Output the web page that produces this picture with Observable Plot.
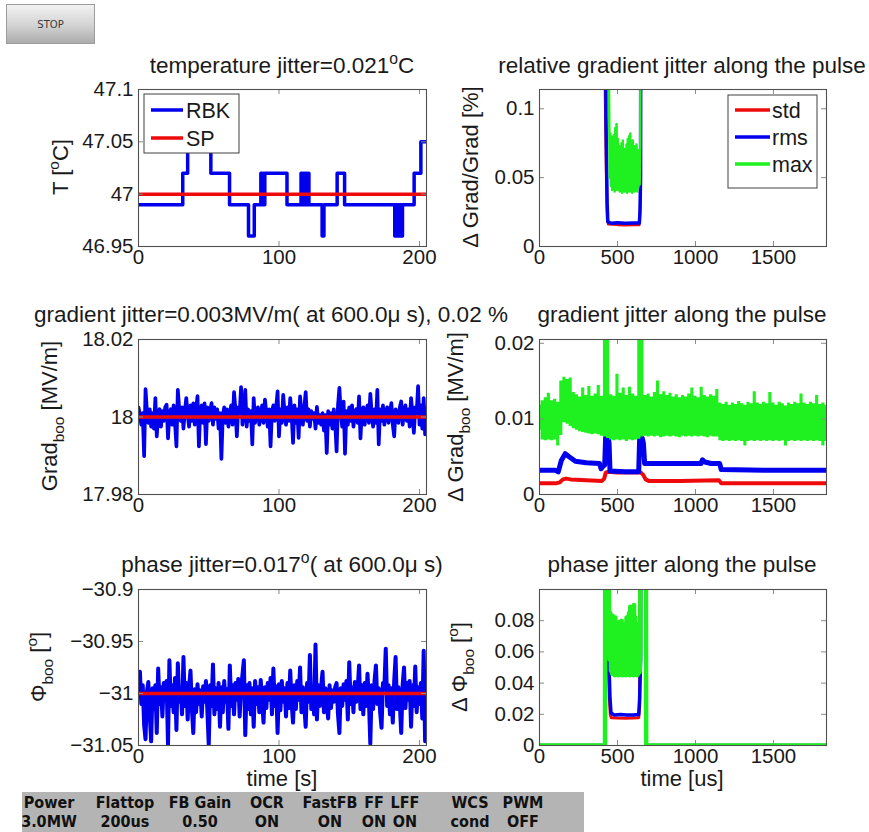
<!DOCTYPE html>
<html><head><meta charset="utf-8">
<script src="https://cdn.jsdelivr.net/npm/d3@7"></script>
<script src="https://cdn.jsdelivr.net/npm/@observablehq/plot@0.6"></script>
<style>
body{margin:0;background:#fff;}
#root{position:relative;width:869px;height:832px;overflow:hidden;background:#fff;}
.panel{position:absolute;}
#overlay{position:absolute;left:0;top:0;pointer-events:none;}
#stop{position:absolute;left:6px;top:4px;width:89px;height:40px;box-sizing:border-box;border:1px solid #9c9c9c;
 background:linear-gradient(#f2f2f2,#d2d2d2 55%,#acacac);font:10px "DejaVu Sans",sans-serif;color:#3a3a3a;
 display:flex;align-items:center;justify-content:center;}
</style></head>
<body><div id="root"><div id="stop">STOP</div></div>
<script>
// ---------------- DATA ----------------
// temperature readback (step changes), seconds / °C
const tempTime  = [0, 31.5, 35, 51.5, 64.8, 78.3, 82.4, 87.1, 87.8, 88.5, 89.2, 89.9, 105.7, 115.7, 116.5, 117.3, 118.1, 118.9, 119.7, 120.5, 121.3, 130.7, 132.0, 141.4, 146.7, 182.4, 183.2, 184.0, 184.8, 185.6, 186.4, 187.2, 187.9, 196.2, 201.0, 205.0];
const tempValue = [46.99, 47.02, 47.05, 47.02, 46.99, 46.96, 46.99, 47.02, 46.99, 47.02, 46.99, 47.02, 46.99, 47.02, 46.99, 47.02, 46.99, 47.02, 46.99, 47.02, 46.99, 46.96, 46.99, 47.02, 46.99, 46.96, 46.99, 46.96, 46.99, 46.96, 46.99, 46.96, 46.99, 47.02, 47.05, 47.05];
const tempSetpoint = 47;

// gradient at 600 us, one sample per second (MV/m)
const gradValue = [
 18.0025, 18.0005, 17.998, 18.001, 17.9899, 18.0072, 18.0015, 17.9985, 18.002, 17.9975,
 18.001, 17.997, 18.0049, 17.995, 18.0005, 18.002, 17.9975, 18.0015, 17.999, 18.0025,
 18.0032, 17.9945, 18.001, 18.002, 17.998, 18.003, 17.9985, 17.9924, 18.007, 18.002,
 17.999, 18.0025, 17.997, 18.0015, 18.0049, 18.0005, 17.9975, 18.003, 17.999, 18.0035,
 17.998, 18.002, 18.0054, 17.9924, 18.002, 18.003, 17.9985, 18.0035, 17.993, 18.0025,
 17.999, 18.0015, 18.0036, 17.998, 18.0025, 17.9995, 18.002, 17.997, 18.001, 17.9892,
 18.0005, 18.0025, 17.9985, 18.002, 17.9975, 18.001, 18.003, 17.998, 18.0064, 18.002,
 17.995, 18.0025, 18.001, 18.0077, 17.998, 18.0015, 18.007, 17.9975, 18.002, 17.999,
 18.0015, 17.9929, 18.0049, 17.9985, 18.001, 18.0025, 17.998, 18.0005, 18.003, 17.9985,
 18.0045, 18.001, 17.9975, 18.002, 17.9924, 18.0015, 18.003, 17.999, 18.0025, 18.0066,
 17.995, 18.002, 17.9985, 18.0057, 18.001, 17.998, 18.0025, 17.999, 18.0049, 18.0005,
 17.9933, 18.003, 17.9985, 18.002, 17.9946, 18.0053, 18.001, 17.998, 18.0025, 18.0064,
 17.999, 18.002, 17.9975, 18.0015, 17.9995, 18.001, 17.997, 18.0026, 17.9985, 18.0005,
 17.998, 18.001, 17.9965, 18.0005, 17.9907, 18.0015, 17.998, 18.001, 17.997, 18.002,
 17.9985, 17.9911, 18.003, 18.0075, 18.001, 17.9975, 18.004, 17.9905, 18.0015, 17.998,
 18.0025, 17.999, 18.003, 17.9975, 18.001, 18.002, 17.9985, 18.0053, 17.9945, 18.0015,
 18.0025, 17.998, 18.001, 18.003, 17.9985, 18.006, 18.001, 17.9975, 18.002, 17.9985,
 18.007, 17.9929, 18.002, 17.999, 18.003, 17.998, 18.0015, 18.0025, 17.9985, 18.001,
 18.0036, 17.998, 17.995, 18.002, 18.001, 17.9985, 18.0025, 18.004, 17.998, 18.0015,
 18.003, 17.999, 18.002, 17.9975, 18.0049, 18.001, 17.9959, 18.0025, 18.001, 18.008,
 17.998, 18.003, 17.997, 18.0049, 17.9955, 18.002];
const gradSetpoint = 18;

// phase at 600 us, one sample per second (deg)
const phaseValue = [
 -30.995, -30.979, -31.01, -30.992, -31.03, -31.044, -30.998, -30.989, -31.02, -31.046,
 -30.995, -31.015, -30.992, -31.038, -30.976, -31.01, -30.994, -31.022, -30.99, -31.005,
 -30.988, -31.049, -30.968, -31.012, -30.992, -31.018, -30.985, -31.035, -30.971, -31.008,
 -30.995, -31.02, -30.965, -31.012, -30.99, -31.025, -30.994, -30.978, -31.015, -31.038,
 -30.996, -31.018, -30.991, -31.01, -30.997, -31.022, -30.993, -31.008, -30.988, -31.016,
 -31.049, -30.992, -31.012, -30.972, -31.02, -30.995, -31.015, -30.99, -31.032, -30.994,
 -31.018, -30.988, -31.008, -30.996, -31.034, -30.973, -31.012, -30.992, -31.02, -30.99,
 -31.006, -30.986, -31.022, -30.995, -30.982, -30.968, -31.04, -30.992, -31.015, -30.99,
 -31.02, -30.995, -31.032, -30.988, -31.01, -30.994, -31.018, -30.987, -31.008, -31.028,
 -30.994, -31.014, -30.99, -31.006, -30.985, -31.02, -30.976, -31.012, -30.993, -31.038,
 -30.991, -31.016, -30.988, -31.008, -30.995, -31.022, -30.99, -31.014, -30.978, -31.01,
 -31.028, -30.992, -31.015, -30.988, -31.006, -30.975, -31.018, -30.994, -31.012, -31.032,
 -30.99, -31.008, -30.963, -31.015, -30.996, -31.02, -30.953, -31.025, -30.992, -31.012,
 -30.994, -30.979, -31.018, -30.995, -31.01, -31.024, -30.992, -31.014, -30.997, -31.008,
 -30.994, -30.99, -31.02, -31.038, -30.995, -31.012, -30.991, -31.006, -30.988, -31.025,
 -30.97, -31.01, -30.994, -31.018, -30.989, -31.008, -30.996, -30.973, -31.015, -30.992,
 -31.02, -30.99, -31.012, -30.981, -31.006, -31.048, -30.992, -31.015, -30.988, -30.973,
 -31.01, -30.995, -31.018, -31.033, -30.99, -30.994, -30.957, -31.012, -30.992, -31.02,
 -30.995, -31.028, -30.988, -30.965, -31.015, -30.994, -31.01, -31.038, -30.992, -30.975,
 -31.014, -30.99, -31.006, -30.988, -31.032, -30.992, -31.012, -30.974, -31.018, -30.994,
 -31.01, -30.99, -31.024, -30.959, -31.046, -30.985];
const phaseSetpoint = -31;

// flattop sampling grid (us)
const flatTime = [446,450,454,458,462,466,470,474,478,482,486,490,494,498,502,506,510,514,518,522,526,530,534,538,542,546,550,554,558,562,566,570,574,578,582,586,590,594,598,602,606,610,614,618,622,626,630,634,638,642,646];

// relative gradient jitter along the pulse (%); 0.5 = far above axis limit
const relStdTime  = [0, 416, 420, 424, 428, 434, 440, 500, 550, 600, 640, 646, 650, 1840];
const relStdValue = [0.5, 0.5, 0.11, 0.08, 0.045, 0.02, 0.0162, 0.0157, 0.0155, 0.0157, 0.0156, 0.03, 0.5, 0.5];
const relRmsTime  = [0, 422, 426, 430, 434, 438, 460, 500, 550, 600, 640, 644, 648, 652, 1840];
const relRmsValue = [0.5, 0.5, 0.095, 0.06, 0.03, 0.018, 0.0168, 0.0172, 0.0168, 0.017, 0.017, 0.024, 0.05, 0.5, 0.5];
const relMaxFlat = [
 0.11, 0.05, 0.082, 0.044, 0.08, 0.041, 0.078, 0.043, 0.081, 0.040,
 0.086, 0.042, 0.089, 0.041, 0.078, 0.043, 0.073, 0.040, 0.069, 0.042,
 0.075, 0.039, 0.077, 0.043, 0.071, 0.040, 0.07, 0.042, 0.074, 0.039,
 0.078, 0.041, 0.08, 0.040, 0.082, 0.042, 0.076, 0.039, 0.077, 0.041,
 0.073, 0.040, 0.072, 0.042, 0.074, 0.040, 0.07, 0.043, 0.069, 0.045, 0.075];
const relMaxTime  = [0, 434, 442, ...flatTime, 650, 1840];
const relMaxValue = [0.5, 0.5, 0.15, ...relMaxFlat, 0.5, 0.5];

// gradient jitter along the pulse (MV/m)
const gradStdTime  = [0, 110, 130, 150, 170, 200, 300, 400, 415, 425, 440, 500, 600, 650, 665, 680, 700, 900, 1150, 1165, 1840];
const gradStdValue = [0.0015, 0.0015, 0.0016, 0.002, 0.0021, 0.002, 0.0019, 0.0018, 0.0021, 0.0029, 0.003, 0.0029, 0.0029, 0.0029, 0.0026, 0.002, 0.0018, 0.0018, 0.0019, 0.0015, 0.0015];
const gradRmsTime  = [0, 100, 120, 140, 165, 190, 230, 300, 385, 395, 410, 418, 424, 432, 440, 446, 452, 550, 636, 642, 650, 658, 666, 674, 800, 1035, 1045, 1060, 1100, 1155, 1165, 1500, 1840];
const gradRmsValue = [0.0032, 0.0032, 0.003, 0.0045, 0.0054, 0.005, 0.0044, 0.0042, 0.0041, 0.0034, 0.0038, 0.0039, 0.0076, 0.0072, 0.0076, 0.0068, 0.0031, 0.003, 0.003, 0.0074, 0.007, 0.0075, 0.0068, 0.0041, 0.0041, 0.0041, 0.0046, 0.0043, 0.0041, 0.0041, 0.0033, 0.0032, 0.0032];
// max: dense noisy trace given as lower / upper envelope every 20 us (0.03 = above axis limit)
const gradMaxTime = [0,20,40,60,80,100,120,140,160,180,200,220,240,260,280,300,320,340,360,380,400,420,440,460,480,500,520,540,560,580,600,620,640,660,680,700,720,740,760,780,800,820,840,860,880,900,920,940,960,980,1000,1020,1040,1060,1080,1100,1120,1140,1160,1180,1200,1220,1240,1260,1280,1300,1320,1340,1360,1380,1400,1420,1440,1460,1480,1500,1520,1540,1560,1580,1600,1620,1640,1660,1680,1700,1720,1740,1760,1780,1800,1820,1840];
const gradMaxUpper = [
 0.0118, 0.0124, 0.0128, 0.0134, 0.0124, 0.0126, 0.0122, 0.0150, 0.0155, 0.0152,
 0.0154, 0.0135, 0.0132, 0.0129, 0.0141, 0.0131, 0.0143, 0.0130, 0.0133, 0.0144,
 0.0130, 0.03, 0.03, 0.0132, 0.0130, 0.0159, 0.0134, 0.0141, 0.0131, 0.0142,
 0.0133, 0.0130, 0.03, 0.03, 0.0131, 0.0133, 0.0129, 0.0135, 0.0150, 0.0132,
 0.0136, 0.0131, 0.0134, 0.0129, 0.0132, 0.0128, 0.0131, 0.0129, 0.0133, 0.0141,
 0.0130, 0.0128, 0.0142, 0.0131, 0.0129, 0.0132, 0.0130, 0.0139, 0.0121, 0.0119,
 0.0122, 0.0118, 0.0121, 0.0119, 0.0123, 0.0120, 0.0118, 0.0122, 0.0120, 0.0136,
 0.0121, 0.0119, 0.0122, 0.0120, 0.0135, 0.0121, 0.0118, 0.0122, 0.0120, 0.0117,
 0.0121, 0.0119, 0.0122, 0.0120, 0.0133, 0.0121, 0.0119, 0.0122, 0.0120, 0.0131,
 0.0119, 0.0121, 0.0118];
const gradMaxLower = [
 0.0085, 0.0072, 0.0071, 0.0072, 0.0071, 0.0072, 0.0064, 0.0078, 0.0095, 0.0093,
 0.0090, 0.0087, 0.0085, 0.0083, 0.0082, 0.0081, 0.0080, 0.0079, 0.0080, 0.0079,
 0.0077, 0.0076, 0.0074, 0.0072, 0.0071, 0.0072, 0.0071, 0.0072, 0.0070, 0.0072,
 0.0071, 0.0072, 0.0073, 0.0076, 0.0077, 0.0076, 0.0077, 0.0076, 0.0077, 0.0075,
 0.0076, 0.0077, 0.0076, 0.0077, 0.0076, 0.0075, 0.0077, 0.0076, 0.0077, 0.0076,
 0.0077, 0.0076, 0.0077, 0.0076, 0.0075, 0.0077, 0.0076, 0.0076, 0.0071, 0.0070,
 0.0071, 0.0070, 0.0071, 0.0070, 0.0071, 0.0070, 0.0064, 0.0070, 0.0071, 0.0070,
 0.0071, 0.0070, 0.0071, 0.0070, 0.0071, 0.0070, 0.0071, 0.0070, 0.0071, 0.0064,
 0.0070, 0.0071, 0.0070, 0.0071, 0.0070, 0.0071, 0.0070, 0.0071, 0.0070, 0.0071,
 0.0070, 0.0064, 0.0070];

// phase jitter along the pulse (deg); 0.3 = above axis limit
const phaseStdTime  = [0, 420, 424, 438, 442, 448, 454, 460, 500, 550, 600, 636, 642, 650, 680, 684, 1840];
const phaseStdValue = [0, 0, 0.3, 0.3, 0.05, 0.03, 0.02, 0.0178, 0.0176, 0.0175, 0.0177, 0.0178, 0.025, 0.3, 0.3, 0, 0];
const phaseRmsTime  = [0, 420, 424, 438, 442, 446, 452, 458, 480, 520, 560, 600, 636, 642, 648, 652, 680, 684, 1840];
const phaseRmsValue = [0, 0, 0.3, 0.3, 0.06, 0.05, 0.03, 0.021, 0.0195, 0.0198, 0.0196, 0.0195, 0.0198, 0.03, 0.055, 0.3, 0.3, 0, 0];
const phaseMaxFlat = [
 0.086, 0.055, 0.085, 0.048, 0.08, 0.046, 0.083, 0.047, 0.078, 0.045,
 0.082, 0.046, 0.076, 0.047, 0.072, 0.045, 0.079, 0.046, 0.075, 0.047,
 0.08, 0.045, 0.077, 0.046, 0.073, 0.047, 0.078, 0.045, 0.082, 0.046,
 0.076, 0.047, 0.085, 0.045, 0.089, 0.046, 0.08, 0.047, 0.086, 0.045,
 0.09, 0.046, 0.082, 0.047, 0.078, 0.045, 0.073, 0.046, 0.07, 0.047, 0.06];
const phaseMaxTime  = [0, 420, 424, 438, 442, ...flatTime, 650, 680, 684, 1840];
const phaseMaxValue = [0, 0, 0.3, 0.3, 0.12, ...phaseMaxFlat, 0.3, 0.3, 0, 0];

// axis ticks
const slowTimeTicks = [0, 100, 200];
const pulseTimeTicks = [0, 500, 1000, 1500];
const tempTicks = [46.95, 47, 47.05, 47.1];
const relTicks = [0, 0.05, 0.1];
const gradTicks = [17.98, 18, 18.02];
const gradJitTicks = [0, 0.01, 0.02];
const phaseTicks = [-31.05, -31, -30.95, -30.9];
const phaseJitTicks = [0, 0.02, 0.04, 0.06, 0.08];

// status table
const statusLabels = ["Power", "Flattop", "FB Gain", "OCR", "FastFB", "FF", "LFF", "WCS", "PWM"];
const statusValues = ["3.0MW", "200us", "0.50", "ON", "ON", "ON", "ON", "cond", "OFF"];

// ---------------- STYLE / LAYOUT ----------------
const FONT = '"Liberation Sans", Arial, Helvetica, sans-serif';
const INK = "#1a1a1a";
const BLUE = "#0000ee", RED = "#ee0a0a", GREEN = "#1ff01f";
const ML = 90, MR = 25, MT = 12, MB = 34;
const fmt = d => d < 0 ? "\u2212" + String(-d) : String(d);
const root = document.getElementById("root");

function panel(p) {
  const W = p.fw + ML + MR, H = p.fh + MT + MB;
  const tk = "#8a8a8a";
  const chart = Plot.plot({
    width: W, height: H, marginLeft: ML, marginRight: MR, marginTop: MT, marginBottom: MB,
    style: {background: "transparent", fontFamily: FONT, fontSize: "20.5px", color: INK, overflow: "visible", maxWidth: "none"},
    x: {domain: p.xDomain},
    y: {domain: p.yDomain},
    marks: [
      ...p.marks,
      Plot.tickX(p.xTicks, {x: d => d, insetTop: p.fh - 5, stroke: tk}),
      Plot.tickX(p.xTicks, {x: d => d, insetBottom: p.fh - 5, stroke: tk}),
      Plot.tickY(p.yTicks, {y: d => d, insetRight: p.fw - 5, stroke: tk}),
      Plot.tickY(p.yTicks, {y: d => d, insetLeft: p.fw - 5, stroke: tk}),
      Plot.frame({stroke: "#505050", strokeWidth: 1.1}),
      Plot.axisX({ticks: p.xTicks, tickSize: 0, tickPadding: 3, tickFormat: fmt, label: null}),
      Plot.axisY({ticks: p.yTicks, tickSize: 0, tickPadding: 5, tickFormat: fmt, label: null})
    ]
  });
  const div = document.createElement("div");
  div.className = "panel";
  div.style.left = (p.fx - ML) + "px";
  div.style.top = (p.fy - MT) + "px";
  div.style.width = W + "px";
  div.appendChild(chart);
  root.appendChild(div);
}

const L = {x: 138, w: 288}, R = {x: 539, w: 287};
const rows = [{y: 89, h: 157}, {y: 339, h: 155}, {y: 589, h: 156}];
const slowDomain = [0, 205], pulseDomain = [0, 1840];
const idx = (d, i) => i;

// temperature
panel({fx: L.x, fw: L.w, fy: rows[0].y, fh: rows[0].h, xDomain: slowDomain, yDomain: [46.95, 47.1],
  xTicks: slowTimeTicks, yTicks: tempTicks, marks: [
    Plot.line(tempValue, {x: tempTime, y: tempValue, curve: "step-after", stroke: BLUE, strokeWidth: 3.5, clip: true}),
    Plot.ruleY([tempSetpoint], {stroke: RED, strokeWidth: 3.5, clip: true})
  ]});
// relative gradient jitter
panel({fx: R.x, fw: R.w, fy: rows[0].y, fh: rows[0].h, xDomain: pulseDomain, yDomain: [0, 0.114],
  xTicks: pulseTimeTicks, yTicks: relTicks, marks: [
    Plot.line(relStdValue, {x: relStdTime, y: relStdValue, stroke: RED, strokeWidth: 2.5, clip: true}),
    Plot.line(relRmsValue, {x: relRmsTime, y: relRmsValue, stroke: BLUE, strokeWidth: 3.5, clip: true}),
    Plot.line(relMaxValue, {x: relMaxTime, y: relMaxValue, stroke: GREEN, strokeWidth: 2.5, clip: true})
  ]});
// gradient
panel({fx: L.x, fw: L.w, fy: rows[1].y, fh: rows[1].h, xDomain: slowDomain, yDomain: [17.98, 18.02],
  xTicks: slowTimeTicks, yTicks: gradTicks, marks: [
    Plot.line(gradValue, {x: idx, y: d => d, stroke: BLUE, strokeWidth: 3.7, clip: true}),
    Plot.ruleY([gradSetpoint], {stroke: RED, strokeWidth: 3.5, clip: true})
  ]});
// gradient jitter along pulse
panel({fx: R.x, fw: R.w, fy: rows[1].y, fh: rows[1].h, xDomain: pulseDomain, yDomain: [0, 0.0205],
  xTicks: pulseTimeTicks, yTicks: gradJitTicks, marks: [
    Plot.line(gradStdValue, {x: gradStdTime, y: gradStdValue, stroke: RED, strokeWidth: 4, clip: true}),
    Plot.line(gradRmsValue, {x: gradRmsTime, y: gradRmsValue, stroke: BLUE, strokeWidth: 5, clip: true}),
    Plot.areaY(gradMaxTime, {x: gradMaxTime, y1: gradMaxLower, y2: gradMaxUpper, curve: "step", fill: GREEN, clip: true})
  ]});
// phase
panel({fx: L.x, fw: L.w, fy: rows[2].y, fh: rows[2].h, xDomain: slowDomain, yDomain: [-31.05, -30.9],
  xTicks: slowTimeTicks, yTicks: phaseTicks, marks: [
    Plot.line(phaseValue, {x: idx, y: d => d, stroke: BLUE, strokeWidth: 4, clip: true}),
    Plot.ruleY([phaseSetpoint], {stroke: RED, strokeWidth: 3.5, clip: true})
  ]});
// phase jitter along pulse
panel({fx: R.x, fw: R.w, fy: rows[2].y, fh: rows[2].h, xDomain: pulseDomain, yDomain: [0, 0.1],
  xTicks: pulseTimeTicks, yTicks: phaseJitTicks, marks: [
    Plot.line(phaseStdValue, {x: phaseStdTime, y: phaseStdValue, stroke: RED, strokeWidth: 3, clip: true}),
    Plot.line(phaseRmsValue, {x: phaseRmsTime, y: phaseRmsValue, stroke: BLUE, strokeWidth: 3.5, clip: true}),
    Plot.line(phaseMaxValue, {x: phaseMaxTime, y: phaseMaxValue, stroke: GREEN, strokeWidth: 4.5, clip: true})
  ]});

// ---------------- OVERLAY: titles, labels, legends, status ----------------
const ov = d3.select(root).append("svg").attr("id", "overlay").attr("width", 869).attr("height", 832)
  .attr("font-family", FONT).attr("fill", INK);

function rich(x, y, parts, {size = 22, anchor = "middle", rotate = 0} = {}) {
  const t = ov.append("text").attr("transform", `translate(${x},${y}) rotate(${rotate})`)
    .attr("text-anchor", anchor).attr("font-size", size);
  let shift = 0;
  for (const [s, kind] of parts) {
    const target = kind === "sup" ? -0.42 * size : kind === "sub" ? 0.3 * size : 0;
    t.append("tspan").attr("dy", target - shift).attr("font-size", kind ? size * 0.7 : size).text(s);
    shift = target;
  }
}

// titles
const TS = 22.5;
rich(282, 73, [["temperature jitter=0.021"], ["o", "sup"], ["C"]], {size: TS});
rich(682, 73, [["relative gradient jitter along the pulse"]], {size: TS});
rich(271, 322, [["gradient jitter=0.003MV/m( at 600.0\u03bc s), 0.02 %"]], {size: TS});
rich(682, 322, [["gradient jitter along the pulse"]], {size: TS});
rich(282, 572, [["phase jitter=0.017"], ["o", "sup"], ["( at 600.0\u03bc s)"]], {size: TS});
rich(682, 572, [["phase jitter along the pulse"]], {size: TS});

// y labels
rich(68, 167, [["T ["], ["o", "sup"], ["C]"]], {rotate: -90});
rich(478, 167, [["\u0394 Grad/Grad [%]"]], {rotate: -90});
rich(57, 416, [["Grad"], ["boo", "sub"], [" [MV/m]"]], {rotate: -90});
rich(463, 417, [["\u0394 Grad"], ["boo", "sub"], [" [MV/m]"]], {rotate: -90});
rich(46, 667, [["\u03a6"], ["boo", "sub"], [" ["], ["o", "sup"], ["]"]], {rotate: -90});
rich(467, 667, [["\u0394 \u03a6"], ["boo", "sub"], [" ["], ["o", "sup"], ["]"]], {rotate: -90});

// x labels
rich(282, 786, [["time [s]"]]);
rich(682, 786, [["time [us]"]]);

// legends
function legend(box, items) {
  ov.append("rect").attr("x", box.x).attr("y", box.y).attr("width", box.w).attr("height", box.h)
    .attr("fill", "#fff").attr("stroke", "#404040").attr("stroke-width", 1);
  items.forEach((it, i) => {
    const cy = box.y0 + i * box.dy;
    ov.append("line").attr("x1", box.lx1).attr("x2", box.lx2).attr("y1", cy).attr("y2", cy)
      .attr("stroke", it.color).attr("stroke-width", 3.5);
    ov.append("text").attr("x", box.tx).attr("y", cy + 7.5).attr("font-size", 21.5).text(it.name);
  });
}
legend({x: 144, y: 94, w: 95, h: 59, y0: 110, dy: 28, lx1: 151, lx2: 183, tx: 186},
  [{name: "RBK", color: BLUE}, {name: "SP", color: RED}]);
legend({x: 728, y: 95, w: 89, h: 93, y0: 110, dy: 27, lx1: 735, lx2: 770, tx: 772},
  [{name: "std", color: RED}, {name: "rms", color: BLUE}, {name: "max", color: GREEN}]);

// status table
const colCenters = [49, 125, 200, 267, 330, 374, 405, 470, 523];
ov.append("rect").attr("x", 22).attr("y", 792).attr("width", 562).attr("height", 40).attr("fill", "#b4b4b4");
const st = ov.append("g").attr("font-family", '"DejaVu Sans", Verdana, sans-serif').attr("font-weight", "bold")
  .attr("font-size", 16).attr("fill", "#111").attr("text-anchor", "middle");
statusLabels.forEach((s, i) => st.append("text").attr("transform", `translate(${colCenters[i]},808) scale(0.9,1)`).text(s));
statusValues.forEach((s, i) => st.append("text").attr("transform", `translate(${colCenters[i]},827) scale(0.9,1)`).text(s));
</script>
</body></html>
